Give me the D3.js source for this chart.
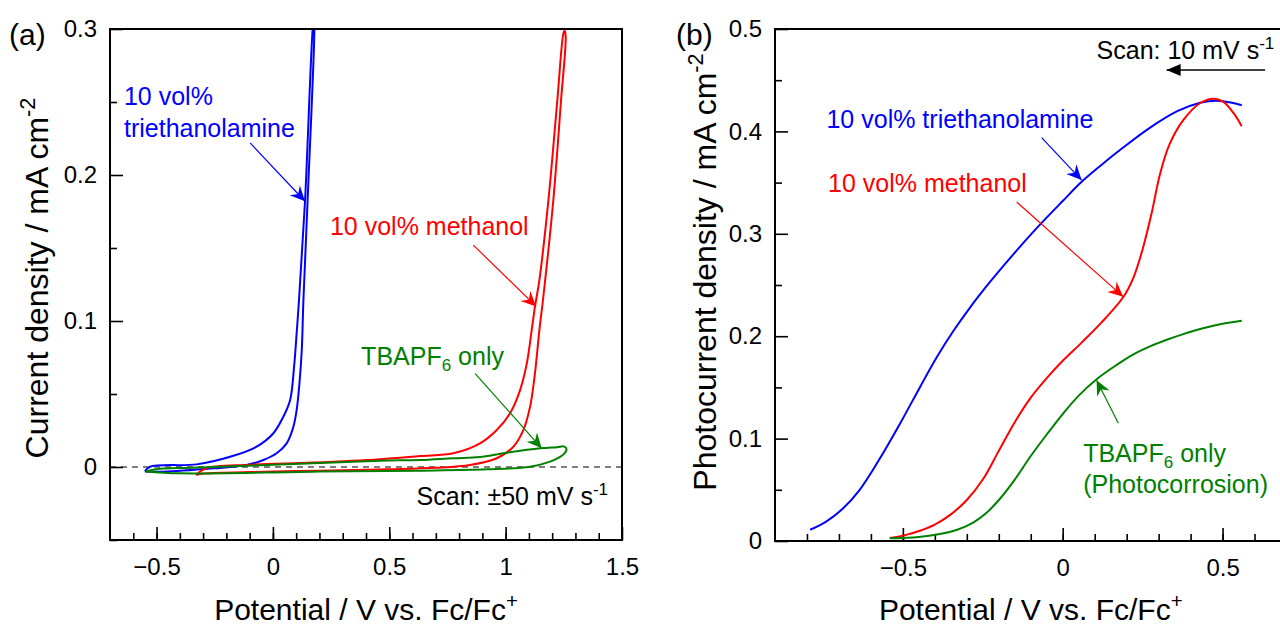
<!DOCTYPE html>
<html lang="en">
<head>
<meta charset="utf-8" />
<title>Current density and photocurrent vs potential</title>
<script src="https://d3js.org/d3.v7.min.js"></script>
<style>
    body { margin: 0; background: #fff; }
    svg { display: block; }
</style>
</head>
<body>
<svg width="1280" height="630"></svg>

<script>
    // ---- panel (a): cyclic voltammograms [V vs Fc/Fc+, mA cm-2] ----
    const cvTEOA = [
        [-0.55, -0.003], [-0.471, -0.0032], [-0.256, -0.0009], [-0.113, 0.0014], [-0.041, 0.0048],
        [0.016, 0.0094], [0.059, 0.0162], [0.088, 0.0276], [0.102, 0.039], [0.114, 0.0573],
        [0.124, 0.080], [0.131, 0.114], [0.149, 0.182], [0.178, 0.300], [0.176, 0.306],
        [0.171, 0.300], [0.138, 0.182], [0.112, 0.114], [0.102, 0.0916], [0.091, 0.0687],
        [0.074, 0.0459], [0.045, 0.0345], [0.002, 0.0231], [-0.070, 0.0139], [-0.184, 0.0070],
        [-0.327, 0.0018], [-0.528, 0.0002], [-0.55, -0.003]
    ];
    const cvMeOH = [
        [-0.33, -0.0055], [-0.3, -0.0045], [-0.1, -0.0035], [0.2, -0.0025], [0.5, -0.0015],
        [0.7, -0.0005], [0.847, 0.0014], [0.962, 0.006], [1.033, 0.0139], [1.076, 0.0253],
        [1.105, 0.0413], [1.126, 0.0642], [1.145, 0.0938], [1.162, 0.1166], [1.205, 0.183],
        [1.238, 0.251], [1.258, 0.295], [1.253, 0.299], [1.247, 0.296], [1.222, 0.251],
        [1.184, 0.183], [1.145, 0.128], [1.126, 0.1098], [1.112, 0.0938], [1.091, 0.0710],
        [1.062, 0.0527], [1.019, 0.0368], [0.962, 0.0253], [0.890, 0.0162], [0.775, 0.0094],
        [0.632, 0.0075], [0.46, 0.0053], [0.172, 0.003], [-0.1, 0.0015], [-0.29, -0.001], [-0.33, -0.0055]
    ];
    const cvTBAPF6 = [
        [-0.545, -0.003], [-0.5, -0.0015], [-0.35, -0.0005], [0.0, 0.0015], [0.172, 0.0025],
        [0.46, 0.0043], [0.632, 0.0048], [0.775, 0.006], [0.89, 0.0068], [0.99, 0.0094],
        [1.148, 0.0128], [1.22, 0.0136], [1.252, 0.014], [1.262, 0.012], [1.252, 0.0092],
        [1.234, 0.007], [1.191, 0.0037], [1.105, 0.0002], [0.919, -0.0016], [0.632, -0.0025],
        [0.172, -0.0032], [-0.399, -0.0043], [-0.545, -0.003]
    ];

    // ---- panel (b): photocurrent, scan 10 mV/s ----
    const pcTEOA = [
        [-0.79, 0.011], [-0.74, 0.019], [-0.69, 0.031], [-0.635, 0.050], [-0.573, 0.080],
        [-0.51, 0.114], [-0.447, 0.150], [-0.395, 0.179], [-0.34, 0.206], [-0.29, 0.228],
        [-0.23, 0.252], [-0.16, 0.278], [-0.08, 0.306], [0.0, 0.332], [0.06, 0.351],
        [0.12, 0.367], [0.18, 0.382], [0.27, 0.403], [0.36, 0.420], [0.43, 0.428],
        [0.48, 0.430], [0.53, 0.428], [0.56, 0.4255]
    ];
    const pcMeOH = [
        [-0.541, 0.003], [-0.49, 0.006], [-0.447, 0.010], [-0.40, 0.016], [-0.35, 0.026],
        [-0.30, 0.040], [-0.25, 0.060], [-0.20, 0.088], [-0.15, 0.116], [-0.10, 0.140],
        [-0.05, 0.159], [0.0, 0.176], [0.06, 0.194], [0.12, 0.213], [0.189, 0.238],
        [0.221, 0.257], [0.25, 0.285], [0.278, 0.320], [0.304, 0.358], [0.335, 0.388],
        [0.377, 0.411], [0.429, 0.4275], [0.471, 0.432], [0.502, 0.429], [0.534, 0.418],
        [0.56, 0.405]
    ];
    const pcTBAPF6 = [
        [-0.541, 0.0026], [-0.45, 0.004], [-0.38, 0.007], [-0.33, 0.011], [-0.28, 0.018],
        [-0.24, 0.027], [-0.197, 0.041], [-0.15, 0.060], [-0.10, 0.083], [-0.05, 0.104],
        [0.0, 0.124], [0.05, 0.142], [0.106, 0.158], [0.169, 0.172], [0.22, 0.182],
        [0.273, 0.190], [0.33, 0.197], [0.377, 0.202], [0.43, 0.207], [0.482, 0.211],
        [0.56, 0.215]
    ];

    // tick labels
    const xTicksA = [-0.5, 0, 0.5, 1, 1.5];
    const yTicksA = [0, 0.1, 0.2, 0.3];
    const xTicksB = [-0.5, 0, 0.5];
    const yTicksB = [0, 0.1, 0.2, 0.3, 0.4, 0.5];

    const blue = "#0000ff", red = "#ff0000", green = "#008000";
    const FONT = "'Liberation Sans', Arial, sans-serif";

    const svg = d3.select("svg").attr("font-family", FONT);

    // arrowheads
    const defs = svg.append("defs");
    [["blue", blue], ["red", red], ["green", green], ["black", "#000"]].forEach(([n, c]) => {
        defs.append("marker")
            .attr("id", "head-" + n)
            .attr("viewBox", "-16 -8 18 16")
            .attr("refX", 0).attr("refY", 0)
            .attr("markerWidth", 18).attr("markerHeight", 16)
            .attr("markerUnits", "userSpaceOnUse")
            .attr("orient", "auto")
            .append("path")
            .attr("d", n === "black" ? "M0,0 L-14,-6 L-14,6 Z" : "M0,0 L-15,-7 L-10,0 L-15,7 Z")
            .attr("fill", c);
    });

    // text with sub/superscripts, sizes in px
    // (plain strings get wrapped: String.prototype has .sup/.sub methods)
    function richText(g, x, y, parts, color, size, anchor) {
        const t = g.append("text")
            .attr("x", x).attr("y", y)
            .attr("font-size", size)
            .attr("fill", color || "#000")
            .attr("text-anchor", anchor || "start");
        let shift = 0;
        parts.forEach(p => {
            const q = typeof p === "string" ? {t: p} : p;
            const s = t.append("tspan").text(q.t);
            let want = 0;
            if (q.sup === true) { want = -size * 0.4; s.attr("font-size", size * 0.68); }
            if (q.sub === true) { want = size * 0.25; s.attr("font-size", size * 0.68); }
            if (want !== shift) { s.attr("dy", want - shift); shift = want; }
        });
        return t;
    }

    function panel(o) {
        const x = d3.scaleLinear().domain(o.xDomain).range([o.left, o.right]);
        const y = d3.scaleLinear().domain(o.yDomain).range([o.bottom, o.top]);
        const g = svg.append("g");

        g.append("clipPath").attr("id", o.id + "-clip")
            .append("rect")
            .attr("x", o.left).attr("y", o.top)
            .attr("width", o.right - o.left).attr("height", o.bottom - o.top);

        // minor ticks (inward)
        g.append("g")
            .attr("transform", `translate(0,${o.bottom})`)
            .call(d3.axisBottom(x).tickValues(o.xMinor).tickSize(-7).tickFormat(""));
        g.append("g")
            .attr("transform", `translate(${o.left},0)`)
            .call(d3.axisLeft(y).tickValues(o.yMinor).tickSize(-7).tickFormat(""));

        // major ticks
        g.append("g")
            .attr("transform", `translate(0,${o.bottom})`)
            .call(d3.axisBottom(x).tickValues(o.xTicks).tickSize(-13).tickPadding(18)
                .tickFormat(d => d < 0 ? "\u2212" + (-d) : String(d)));
        g.append("g")
            .attr("transform", `translate(${o.left},0)`)
            .call(d3.axisLeft(y).tickValues(o.yTicks).tickSize(-13).tickPadding(13)
                .tickFormat(d => String(d)));

        g.selectAll(".domain").remove();
        g.selectAll(".tick line").attr("stroke", "#000").attr("stroke-width", 1.6);
        g.selectAll(".tick text").attr("font-family", FONT).attr("font-size", 24).attr("fill", "#000");

        if (o.zeroLine) {
            g.append("line")
                .attr("x1", o.left).attr("x2", o.right)
                .attr("y1", y(0)).attr("y2", y(0))
                .attr("stroke", "#000").attr("stroke-width", 1.2)
                .attr("stroke-dasharray", "6,5");
        }

        const line = d3.line()
            .x(d => x(d[0])).y(d => y(d[1]))
            .curve(d3.curveCatmullRom.alpha(0.5));

        const curves = g.append("g").attr("clip-path", `url(#${o.id}-clip)`);
        o.series.forEach(s => {
            curves.append("path")
                .attr("d", line(s.data))
                .attr("fill", "none")
                .attr("stroke", s.color)
                .attr("stroke-width", 2);
        });

        // frame
        g.append("rect")
            .attr("x", o.left).attr("y", o.top)
            .attr("width", o.right - o.left).attr("height", o.bottom - o.top)
            .attr("fill", "none").attr("stroke", "#000").attr("stroke-width", 2);

        // annotation arrows and notes
        o.arrows.forEach(a => {
            g.append("line")
                .attr("x1", x(a.from[0])).attr("y1", y(a.from[1]))
                .attr("x2", x(a.to[0])).attr("y2", y(a.to[1]))
                .attr("stroke", a.color).attr("stroke-width", a.w || 1.2)
                .attr("marker-end", `url(#head-${a.head})`);
        });
        o.notes.forEach(n => {
            richText(g, x(n.at[0]), y(n.at[1]), n.parts, n.color, 25, n.anchor);
        });

        // axis titles & panel label
        richText(g, (o.left + o.right) / 2, 620,
            ["Potential / V vs. Fc/Fc", {t: "+", sup: true}], "#000", 30, "middle");
        richText(g, 0, 0, o.yTitle, "#000", 32, "middle")
            .attr("transform", `translate(${o.yTitleX},${o.yTitleY}) rotate(-90)`);
        richText(g, o.labelX, 45, [o.label], "#000", 30, "start");
    }

    panel({
        id: "a", label: "(a)", labelX: 9,
        left: 110, right: 622, top: 29, bottom: 540,
        xDomain: [-0.7, 1.5], yDomain: [-0.05, 0.3],
        xTicks: xTicksA, yTicks: yTicksA,
        xMinor: d3.range(-6, 15).map(d => d / 10),
        yMinor: [-0.05, 0.05, 0.15, 0.25],
        zeroLine: true,
        yTitle: ["Current density / mA cm", {t: "-2", sup: true}],
        yTitleX: 48, yTitleY: 278,
        series: [
            {data: cvTEOA, color: blue},
            {data: cvMeOH, color: red},
            {data: cvTBAPF6, color: green}
        ],
        arrows: [
            {from: [-0.098, 0.222], to: [0.138, 0.182], color: blue, head: "blue"},
            {from: [0.861, 0.152], to: [1.131, 0.110], color: red, head: "red"},
            {from: [0.869, 0.064], to: [1.155, 0.0128], color: green, head: "green"}
        ],
        notes: [
            {at: [-0.64, 0.248], parts: ["10 vol%"], color: blue},
            {at: [-0.64, 0.226], parts: ["triethanolamine"], color: blue},
            {at: [0.245, 0.159], parts: ["10 vol% methanol"], color: red},
            {at: [0.379, 0.070], parts: ["TBAPF", {t: "6", sub: true}, " only"], color: green},
            {at: [1.44, -0.026], parts: ["Scan: \u00b150 mV s", {t: "-1", sup: true}], color: "#000", anchor: "end"}
        ]
    });

    panel({
        id: "b", label: "(b)", labelX: 676,
        left: 775, right: 1286.5, top: 29, bottom: 541,
        xDomain: [-0.9, 0.7], yDomain: [0, 0.5],
        xTicks: xTicksB, yTicks: yTicksB,
        xMinor: d3.range(-8, 7).map(d => d / 10),
        yMinor: [0.05, 0.15, 0.25, 0.35, 0.45],
        zeroLine: false,
        yTitle: ["Photocurrent density / mA cm", {t: "-2", sup: true}],
        yTitleX: 716, yTitleY: 272,
        series: [
            {data: pcTEOA, color: blue},
            {data: pcMeOH, color: red},
            {data: pcTBAPF6, color: green}
        ],
        arrows: [
            {from: [-0.066, 0.394], to: [0.059, 0.3525], color: blue, head: "blue"},
            {from: [-0.144, 0.331], to: [0.189, 0.2386], color: red, head: "red"},
            {from: [0.174, 0.115], to: [0.106, 0.157], color: green, head: "green"},
            {from: [0.633, 0.46], to: [0.325, 0.46], color: "#000", head: "black", w: 1.6}
        ],
        notes: [
            {at: [-0.739, 0.403], parts: ["10 vol% triethanolamine"], color: blue},
            {at: [-0.734, 0.341], parts: ["10 vol% methanol"], color: red},
            {at: [0.064, 0.0774], parts: ["TBAPF", {t: "6", sub: true}, " only"], color: green},
            {at: [0.064, 0.0466], parts: ["(Photocorrosion)"], color: green},
            {at: [0.106, 0.471], parts: ["Scan: 10 mV s", {t: "-1", sup: true}], color: "#000"}
        ]
    });
</script>
</body>
</html>
